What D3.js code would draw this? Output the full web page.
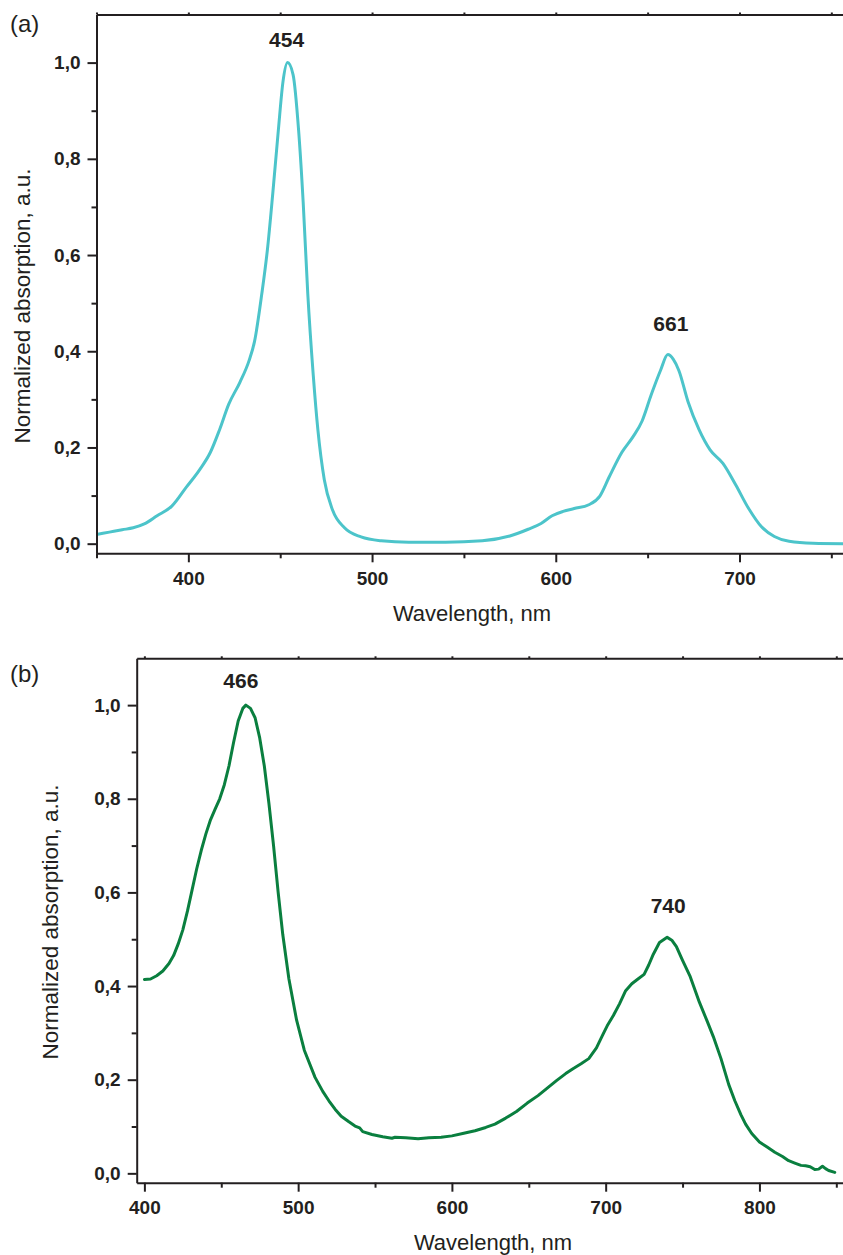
<!DOCTYPE html>
<html>
<head>
<meta charset="utf-8">
<script src="https://cdn.jsdelivr.net/npm/d3@7"></script>
<style>
  html, body { margin: 0; padding: 0; background: #ffffff; }
  svg { display: block; }
  text { font-family: "Liberation Sans", Arial, Helvetica, sans-serif; fill: #231f20; }
</style>
</head>
<body>
<svg id="chart" width="843" height="1255"></svg>
<script>
// ---- Spectrum (a) ----
const wavelengthA = [350, 357, 364, 370, 376, 383, 391, 399, 406, 412, 417, 422, 428, 433, 436,
  440, 443, 446, 449, 451.5, 454, 457, 460, 462.5, 465, 468, 470.5, 474, 478.5, 485, 494, 505,
  520, 540, 560, 575, 585, 592, 598, 604, 610, 618, 624, 629, 636, 642, 647, 652, 657, 661, 664,
  667, 672, 678, 684, 691, 698, 705, 712, 719, 727, 740, 760];
const absorbA = [0.019, 0.024, 0.029, 0.033, 0.041, 0.058, 0.078, 0.118, 0.153, 0.19, 0.237, 0.29,
  0.335, 0.38, 0.42, 0.52, 0.61, 0.73, 0.86, 0.96, 1.0, 0.975, 0.86, 0.71, 0.52, 0.35, 0.237, 0.133,
  0.07, 0.033, 0.014, 0.006, 0.003, 0.003, 0.006, 0.016, 0.03, 0.042, 0.058, 0.067, 0.073, 0.081,
  0.099, 0.138, 0.19, 0.222, 0.255, 0.31, 0.36, 0.393, 0.383, 0.36, 0.295, 0.237, 0.195, 0.167,
  0.122, 0.073, 0.035, 0.015, 0.005, 0.001, 0.0];
const peaksA = [454, 661];
const peakValuesA = [1.0, 0.393];

// ---- Spectrum (b) ----
const wavelengthB = [400, 404, 408, 412, 416, 419, 422, 425, 428, 431, 434, 437, 440, 443, 446, 449,
  452, 455, 458, 461, 464, 466, 469, 472, 475, 478, 481, 484, 487, 490, 494, 499, 504, 511, 516, 520,
  524, 528, 533, 537, 540, 542, 548, 555, 561, 563, 570, 578, 585, 593, 600, 607, 615, 622, 628, 635,
  642, 649, 656, 662, 668, 674, 679, 684, 689, 694, 698, 701, 705, 709, 713, 717, 721, 725, 728, 731,
  735, 740, 743, 746, 750, 755, 761, 766, 770, 775, 780, 784, 788, 791, 795, 800, 805, 810, 815, 819,
  823, 827, 830, 833, 836, 838.5, 841, 843, 845, 849];
const absorbB = [0.414, 0.415, 0.422, 0.432, 0.448, 0.465, 0.49, 0.52, 0.56, 0.605, 0.65, 0.69, 0.725,
  0.755, 0.778, 0.8, 0.83, 0.87, 0.92, 0.966, 0.993, 1.0, 0.993, 0.973, 0.93, 0.87, 0.79, 0.7, 0.6,
  0.51, 0.415, 0.327, 0.263, 0.205, 0.175, 0.155, 0.137, 0.122, 0.11, 0.101, 0.097, 0.089, 0.083,
  0.078, 0.075, 0.077, 0.076, 0.074, 0.076, 0.077, 0.08, 0.085, 0.091, 0.098, 0.105, 0.118, 0.132,
  0.15, 0.166, 0.182, 0.198, 0.213, 0.224, 0.234, 0.245, 0.268, 0.295, 0.315, 0.337, 0.362, 0.39,
  0.405, 0.415, 0.425, 0.445, 0.468, 0.493, 0.504, 0.498, 0.484, 0.455, 0.42, 0.365, 0.325, 0.292,
  0.245, 0.19, 0.155, 0.125, 0.105, 0.085, 0.067, 0.056, 0.045, 0.036, 0.027, 0.022, 0.017, 0.016,
  0.014, 0.008, 0.009, 0.015, 0.01, 0.006, 0.002];
const peaksB = [466, 740];
const peakValuesB = [1.0, 0.504];

// ---- Axis ticks ----
const yMajorTicks = [0.0, 0.2, 0.4, 0.6, 0.8, 1.0];
const yMinorTicks = [0.1, 0.3, 0.5, 0.7, 0.9];
const xMajorTicksA = [400, 500, 600, 700];
const xMinorTicksA = [350, 450, 550, 650, 750];
const xMajorTicksB = [400, 500, 600, 700, 800];
const xMinorTicksB = [450, 550, 650, 750, 850];

const xTitle = "Wavelength, nm";
const yTitle = "Normalized absorption, a.u.";
const ink = "#231f20";
const commaFmt = d => d3.format(".1f")(d).replace(".", ",");

const svg = d3.select("#chart");

function drawPanel(p) {
  const x = d3.scaleLinear().domain(p.xDomain).range([p.left, p.right]);
  const y = d3.scaleLinear().domain([-0.02, 1.1]).range([p.bottom, p.top]);
  const g = svg.append("g");

  const clipId = "clip-" + p.id;
  svg.append("clipPath").attr("id", clipId)
    .append("rect").attr("x", p.left).attr("y", p.top)
    .attr("width", p.right - p.left).attr("height", p.bottom - p.top);

  // spectrum curve
  const pts = p.wl.map((w, i) => [w, p.ab[i]]);
  g.append("path")
    .datum(pts)
    .attr("clip-path", `url(#${clipId})`)
    .attr("fill", "none")
    .attr("stroke", p.color)
    .attr("stroke-width", 3)
    .attr("stroke-linejoin", "round")
    .attr("stroke-linecap", "round")
    .attr("d", d3.line().x(d => x(d[0])).y(d => y(d[1])).curve(p.curve));

  // bottom axis: major + minor ticks
  g.append("g").attr("transform", `translate(0,${p.bottom})`)
    .call(d3.axisBottom(x).tickValues(p.xMajor).tickFormat(d3.format("d"))
      .tickSize(9).tickPadding(9).tickSizeOuter(0));
  g.append("g").attr("transform", `translate(0,${p.bottom})`)
    .call(d3.axisBottom(x).tickValues(p.xMinor).tickFormat("").tickSize(5).tickSizeOuter(0))
    .call(s => s.select(".domain").remove());

  // left axis: major + minor ticks
  g.append("g").attr("transform", `translate(${p.left},0)`)
    .call(d3.axisLeft(y).tickValues(yMajorTicks).tickFormat(commaFmt)
      .tickSize(9).tickPadding(7).tickSizeOuter(0));
  g.append("g").attr("transform", `translate(${p.left},0)`)
    .call(d3.axisLeft(y).tickValues(yMinorTicks).tickFormat("").tickSize(5).tickSizeOuter(0))
    .call(s => s.select(".domain").remove());

  // top frame line with tiny ticks
  g.append("g").attr("transform", `translate(0,${p.top})`)
    .call(d3.axisTop(x).tickValues(p.xMajor.concat(p.xMinor)).tickFormat("").tickSize(2).tickSizeOuter(0));

  g.selectAll(".domain").attr("stroke", ink).attr("stroke-width", 2);
  g.selectAll(".tick line").attr("stroke", ink).attr("stroke-width", 2);
  g.selectAll(".tick text")
    .attr("fill", ink)
    .style("font-size", "19px")
    .style("font-weight", "bold");

  // peak labels
  p.peaks.forEach((w, i) => {
    g.append("text")
      .attr("x", x(w) + p.peakDx[i])
      .attr("y", y(p.peakVals[i]) - p.peakGap[i])
      .attr("text-anchor", "middle")
      .style("font-size", "21px")
      .style("font-weight", "bold")
      .text(w);
  });

  // axis titles
  g.append("text")
    .attr("x", p.xTitleX).attr("y", p.xTitleY)
    .attr("text-anchor", "middle")
    .style("font-size", "22px")
    .text(xTitle);
  g.append("text")
    .attr("transform", `translate(${p.yTitleX},${p.yTitleY}) rotate(-90)`)
    .attr("text-anchor", "middle")
    .style("font-size", "22.5px")
    .text(yTitle);

  // panel letter
  g.append("text")
    .attr("x", 10).attr("y", p.letterY)
    .style("font-size", "24px")
    .text(p.letter);
}

drawPanel({
  id: "a", letter: "(a)", letterY: 32,
  wl: wavelengthA, ab: absorbA, color: "#4cc4ca", curve: d3.curveMonotoneX,
  xDomain: [350, 760], left: 96.5, right: 849.7, top: 14.5, bottom: 553.3,
  xMajor: xMajorTicksA, xMinor: xMinorTicksA,
  peaks: peaksA, peakVals: peakValuesA, peakGap: [16, 24], peakDx: [-1, 3],
  xTitleX: 472, xTitleY: 621, yTitleX: 30, yTitleY: 306
});

drawPanel({
  id: "b", letter: "(b)", letterY: 682,
  wl: wavelengthB, ab: absorbB, color: "#0a7f3f", curve: d3.curveLinear,
  xDomain: [395, 855], left: 136.7, right: 844, top: 658.3, bottom: 1182.7,
  xMajor: xMajorTicksB, xMinor: xMinorTicksB,
  peaks: peaksB, peakVals: peakValuesB, peakGap: [17, 24], peakDx: [-5, 1],
  xTitleX: 493, xTitleY: 1250, yTitleX: 58, yTitleY: 922
});
</script>
</body>
</html>
